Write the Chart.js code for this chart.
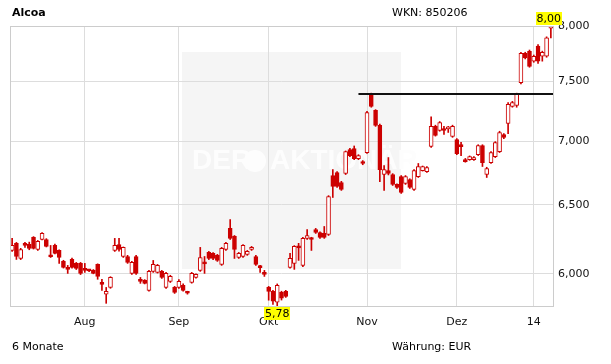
<!DOCTYPE html>
<html>
<head>
<meta charset="utf-8">
<script src="https://cdn.jsdelivr.net/npm/chart.js@4.4.0/dist/chart.umd.min.js"></script>
<style>
html, body { margin: 0; padding: 0; background: #fff; }
</style>
</head>
<body>
<canvas id="chart" width="611" height="364"></canvas>
<script>
// trading days, 6 months
const dates = [
  '09.07.13','10.07.13','11.07.13','12.07.13','15.07.13','16.07.13','17.07.13','18.07.13','19.07.13','22.07.13',
  '23.07.13','24.07.13','25.07.13','26.07.13','29.07.13','30.07.13','31.07.13',
  '01.08.13','02.08.13','05.08.13','06.08.13','07.08.13','08.08.13','09.08.13','12.08.13','13.08.13','14.08.13',
  '15.08.13','16.08.13','19.08.13','20.08.13','21.08.13','22.08.13','23.08.13','26.08.13','27.08.13','28.08.13',
  '29.08.13','30.08.13',
  '02.09.13','03.09.13','04.09.13','05.09.13','06.09.13','09.09.13','10.09.13','11.09.13','12.09.13','13.09.13',
  '16.09.13','17.09.13','18.09.13','19.09.13','20.09.13','23.09.13','24.09.13','25.09.13','26.09.13','27.09.13',
  '30.09.13',
  '01.10.13','02.10.13','03.10.13','04.10.13','07.10.13','08.10.13','09.10.13','10.10.13','11.10.13','14.10.13',
  '15.10.13','16.10.13','17.10.13','18.10.13','21.10.13','22.10.13','23.10.13','24.10.13','25.10.13','28.10.13',
  '29.10.13','30.10.13','31.10.13',
  '01.11.13','04.11.13','05.11.13','06.11.13','07.11.13','08.11.13','11.11.13','12.11.13','13.11.13','14.11.13',
  '15.11.13','18.11.13','19.11.13','20.11.13','21.11.13','22.11.13','25.11.13','26.11.13','27.11.13','28.11.13',
  '29.11.13',
  '02.12.13','03.12.13','04.12.13','05.12.13','06.12.13','09.12.13','10.12.13','11.12.13','12.12.13','13.12.13',
  '16.12.13','17.12.13','18.12.13','19.12.13','20.12.13','23.12.13','27.12.13','30.12.13',
  '02.01.14','03.01.14','06.01.14','07.01.14','08.01.14'
];

const open = [
  6.165, 6.216, 6.108, 6.209, 6.209, 6.259, 6.172, 6.244, 6.244, 6.125,
  6.201, 6.165, 6.087, 6.045, 6.101, 6.073, 6.073, 6.031, 6.024, 6.024,
  6.066, 5.930, 5.860, 5.906, 6.165, 6.208, 6.122, 6.122, 6.003, 6.122,
  5.955, 5.955, 5.886, 6.017, 6.010, 6.017, 5.906, 5.948, 5.906, 5.906,
  5.920, 5.872, 5.941, 5.975, 6.024, 6.073, 6.151, 6.144, 6.130, 6.066,
  6.172, 6.325, 6.266, 6.115, 6.122, 6.137, 6.172, 6.122, 6.047, 5.999,
  5.906, 5.879, 5.805, 5.872, 5.879, 6.045, 6.073, 6.187, 6.059, 6.252,
  6.252, 6.317, 6.295, 6.288, 6.281, 6.725, 6.749, 6.671, 6.741, 6.931,
  6.939, 6.859, 6.835, 6.907, 7.390, 7.253, 7.128, 6.733, 6.764, 6.733,
  6.656, 6.717, 6.664, 6.694, 6.617, 6.717, 6.764, 6.756, 6.956, 7.120,
  7.086, 7.090, 7.100, 7.037, 7.012, 6.960, 6.851, 6.851, 6.851, 6.891,
  6.964, 6.733, 6.827, 6.875, 6.915, 7.053, 7.144, 7.287, 7.295, 7.490,
  7.751, 7.769, 7.680, 7.815, 7.724, 7.724, 7.980
];
const high = [
  6.252, 6.223, 6.180, 6.223, 6.225, 6.265, 6.237, 6.295, 6.250, 6.201,
  6.210, 6.170, 6.095, 6.059, 6.110, 6.080, 6.080, 6.073, 6.030, 6.030,
  6.070, 5.962, 5.906, 5.980, 6.252, 6.252, 6.190, 6.130, 6.087, 6.130,
  5.975, 5.960, 6.024, 6.094, 6.066, 6.024, 6.010, 5.990, 5.913, 5.960,
  5.930, 5.880, 6.010, 6.000, 6.187, 6.122, 6.158, 6.150, 6.137, 6.187,
  6.223, 6.390, 6.273, 6.151, 6.208, 6.165, 6.194, 6.130, 6.059, 6.024,
  5.913, 5.886, 5.930, 5.880, 5.886, 6.144, 6.200, 6.216, 6.260, 6.317,
  6.260, 6.325, 6.300, 6.339, 6.570, 6.772, 6.756, 6.680, 6.920, 6.940,
  6.960, 6.890, 6.843, 7.245, 7.400, 7.260, 7.140, 6.804, 6.867, 6.740,
  6.660, 6.725, 6.725, 6.700, 6.772, 6.820, 6.800, 6.795, 7.200, 7.130,
  7.160, 7.120, 7.120, 7.130, 7.020, 6.990, 6.860, 6.880, 6.875, 6.970,
  6.970, 6.790, 6.915, 6.995, 7.080, 7.060, 7.320, 7.330, 7.400, 7.760,
  7.760, 7.780, 7.735, 7.830, 7.770, 7.900, 8.000
];
const low = [
  6.158, 6.101, 6.100, 6.187, 6.170, 6.175, 6.165, 6.240, 6.190, 6.115,
  6.140, 6.073, 6.040, 6.003, 6.040, 6.030, 5.995, 6.010, 6.015, 6.000,
  5.962, 5.886, 5.798, 5.900, 6.158, 6.160, 6.115, 6.073, 5.996, 5.996,
  5.934, 5.930, 5.880, 6.010, 6.005, 5.968, 5.900, 5.940, 5.865, 5.900,
  5.880, 5.860, 5.935, 5.970, 6.017, 6.003, 6.100, 6.100, 6.087, 6.059,
  6.165, 6.244, 6.108, 6.108, 6.115, 6.130, 6.165, 6.059, 6.010, 5.982,
  5.819, 5.790, 5.780, 5.820, 5.838, 6.040, 6.031, 6.094, 6.050, 6.245,
  6.165, 6.288, 6.252, 6.252, 6.273, 6.556, 6.633, 6.610, 6.733, 6.875,
  6.850, 6.850, 6.810, 6.900, 7.280, 7.120, 6.678, 6.609, 6.730, 6.648,
  6.625, 6.587, 6.656, 6.625, 6.610, 6.710, 6.760, 6.750, 6.948, 7.040,
  7.080, 7.053, 7.070, 7.030, 6.890, 6.883, 6.830, 6.845, 6.845, 6.883,
  6.796, 6.710, 6.820, 6.867, 6.907, 7.020, 7.060, 7.280, 7.280, 7.480,
  7.700, 7.626, 7.670, 7.660, 7.680, 7.715, 7.890
];
const close = [
  6.201, 6.122, 6.172, 6.201, 6.180, 6.180, 6.230, 6.288, 6.194, 6.120,
  6.144, 6.115, 6.045, 6.031, 6.045, 6.038, 6.003, 6.024, 6.020, 6.003,
  5.982, 5.927, 5.879, 5.975, 6.201, 6.172, 6.187, 6.080, 6.080, 6.003,
  5.948, 5.934, 6.017, 6.066, 6.059, 5.975, 6.003, 5.982, 5.872, 5.948,
  5.886, 5.866, 6.003, 5.996, 6.115, 6.070, 6.108, 6.108, 6.094, 6.180,
  6.216, 6.252, 6.172, 6.144, 6.201, 6.158, 6.187, 6.066, 6.043, 5.996,
  5.879, 5.812, 5.920, 5.832, 5.845, 6.108, 6.194, 6.183, 6.252, 6.273,
  6.244, 6.295, 6.259, 6.259, 6.563, 6.640, 6.640, 6.617, 6.915, 6.883,
  6.859, 6.883, 6.820, 7.236, 7.287, 7.128, 6.772, 6.772, 6.741, 6.656,
  6.633, 6.594, 6.717, 6.633, 6.764, 6.796, 6.796, 6.788, 7.120, 7.045,
  7.152, 7.086, 7.103, 7.120, 6.899, 6.955, 6.835, 6.875, 6.867, 6.964,
  6.827, 6.780, 6.907, 6.988, 7.070, 7.029, 7.304, 7.320, 7.390, 7.751,
  7.710, 7.634, 7.724, 7.680, 7.760, 7.890, 8.000
];

const tickDates = ['01.08.13', '02.09.13', '01.10.13', '01.11.13', '02.12.13', '02.01.14'];
const tickNames = ['Aug', 'Sep', 'Okt', 'Nov', 'Dez', '14'];
const yTicks = [6, 6.5, 7, 7.5, 8];

const resistanceLevel = 7.39;
const resistanceFrom = '30.10.13';

const RED = '#cc0000';
const FONT = 'DejaVu Sans';

const bodies = dates.map((d, i) => [Math.min(open[i], close[i]), Math.max(open[i], close[i])]);
const wicks = dates.map((d, i) => [low[i], high[i]]);
const bodyFill = dates.map((d, i) => close[i] >= open[i] ? '#ffffff' : RED);

const fmt = (v, n) => v.toFixed(n).replace('.', ',');

const extras = {
  id: 'extras',
  beforeDraw(chart) {
    const ctx = chart.ctx;
    ctx.save();
    // watermark box
    ctx.fillStyle = '#f5f5f5';
    ctx.fillRect(182, 52, 219, 217);
    ctx.fillStyle = '#fdfdfd';
    ctx.font = 'bold 28px "Liberation Sans Narrow", "Liberation Sans", sans-serif';
    ctx.textBaseline = 'middle';
    ctx.fillText('DER', 192, 161);
    ctx.beginPath();
    ctx.arc(255, 161, 11, 0, Math.PI * 2);
    ctx.fill();
    ctx.fillText('AKTIONÄR', 270, 161);
    ctx.restore();
  },
  afterDatasetsDraw(chart) {
    const ctx = chart.ctx;
    const xs = chart.scales.x, ys = chart.scales.y, area = chart.chartArea;
    ctx.save();
    // resistance line
    const ry = Math.round(ys.getPixelForValue(resistanceLevel));
    ctx.strokeStyle = '#111111';
    ctx.lineWidth = 2;
    ctx.beginPath();
    ctx.moveTo(xs.getPixelForValue(dates.indexOf(resistanceFrom)), ry);
    ctx.lineTo(area.right, ry);
    ctx.stroke();

    // max / min markers
    ctx.font = '11px "' + FONT + '"';
    ctx.textBaseline = 'middle';
    ctx.textAlign = 'center';
    const hi = Math.max(...high), lo = Math.min(...low);
    const hx = xs.getPixelForValue(high.indexOf(hi)) - 2, hy = ys.getPixelForValue(hi);
    const lx = xs.getPixelForValue(low.indexOf(lo)), ly = ys.getPixelForValue(lo);
    const tag = (txt, x, yTop) => {
      const w = ctx.measureText(txt).width + 2;
      ctx.fillStyle = '#ffff00';
      ctx.fillRect(Math.round(x - w / 2), yTop, Math.round(w), 13);
      ctx.fillStyle = '#000000';
      ctx.fillText(txt, x, yTop + 7);
    };
    tag(fmt(hi, 2), hx, Math.round(hy) - 14);
    tag(fmt(lo, 2), lx, Math.round(ly) + 1);
    ctx.restore();
  },
  afterDraw(chart) {
    const ctx = chart.ctx, area = chart.chartArea;
    ctx.save();
    ctx.strokeStyle = '#cccccc';
    ctx.lineWidth = 1;
    ctx.strokeRect(area.left + 0.5, area.top + 0.5, area.right - area.left, area.bottom - area.top);
    ctx.fillStyle = '#000000';
    ctx.textBaseline = 'middle';
    ctx.font = 'bold 11px "' + FONT + '"';
    ctx.fillText('Alcoa', 12, 13);
    ctx.font = '11px "' + FONT + '"';
    ctx.fillText('WKN: 850206', 392, 13);
    ctx.fillText('6 Monate', 12, 347);
    ctx.fillText('Währung: EUR', 392, 347);
    ctx.restore();
  }
};

new Chart(document.getElementById('chart'), {
  type: 'bar',
  data: {
    labels: dates,
    datasets: [{
      label: 'Körper',
      data: bodies,
      backgroundColor: bodyFill,
      borderColor: RED,
      borderWidth: 1,
      borderSkipped: false,
      barThickness: 4,
      minBarLength: 2,
      grouped: false
    }, {
      label: 'Docht',
      data: wicks,
      backgroundColor: RED,
      borderWidth: 0,
      barThickness: 1,
      grouped: false
    }]
  },
  options: {
    responsive: false,
    animation: false,
    layout: { padding: { left: 10, top: 26, right: 0, bottom: 0 } },
    plugins: { legend: { display: false }, tooltip: { enabled: false } },
    scales: {
      x: {
        grid: { offset: false, color: '#dddddd', drawTicks: false },
        border: { color: '#cccccc' },
        afterBuildTicks: s => { s.ticks = s.ticks.filter(t => tickDates.includes(dates[t.value])); },
        afterFit: s => { s.height = 58; },
        ticks: {
          autoSkip: false,
          maxRotation: 0,
          padding: 10,
          color: '#111',
          font: { family: FONT, size: 11 },
          callback: function (v) {
            const k = tickDates.indexOf(this.getLabelForValue(v));
            return k < 0 ? '' : tickNames[k];
          }
        }
      },
      y: {
        type: 'logarithmic',
        position: 'right',
        min: 5.78,
        max: 8.0,
        grid: { color: '#dddddd', drawTicks: false },
        border: { color: '#cccccc' },
        afterBuildTicks: s => { s.ticks = yTicks.map(v => ({ value: v })); },
        afterFit: s => { s.width = 58; },
        ticks: {
          padding: 5,
          color: '#111',
          font: { family: FONT, size: 11 },
          callback: v => fmt(v, 3)
        }
      }
    }
  },
  plugins: [extras]
});
</script>
</body>
</html>
